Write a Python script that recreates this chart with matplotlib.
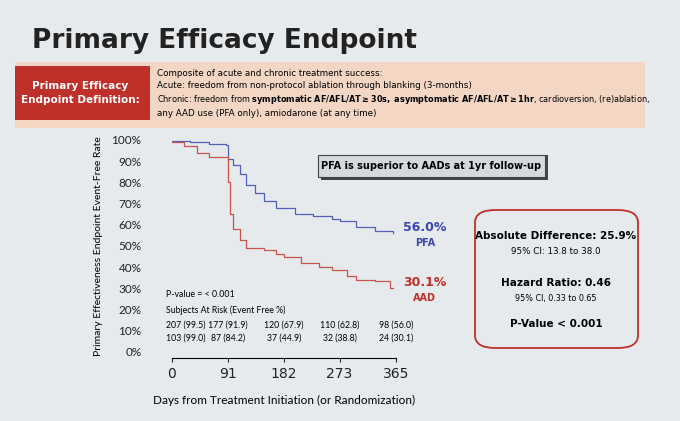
import matplotlib.pyplot as plt
from matplotlib.patches import Rectangle, FancyBboxPatch

# Kaplan-Meier style curves
pfa_days = [0, 30, 60, 88, 91, 100, 110, 120, 135, 150, 170, 182, 200, 230, 260, 273, 300, 330, 360]
pfa_pct = [99.5, 99, 98, 97.5, 91, 88, 84, 79, 75, 71, 68, 67.9, 65, 64, 62.8, 62, 59, 57, 56]
aad_days = [0, 20, 40, 60, 88, 91, 95, 100, 110, 120, 150, 170, 182, 210, 240, 260, 285, 300, 330, 355, 360]
aad_pct = [99, 97, 94, 92, 91.9, 80, 65, 58, 53, 49, 48, 46, 44.9, 42, 40, 38.8, 36, 34, 33.5, 30.1, 30.1]

tick_days = [0, 91, 182, 273, 365]
risk_pfa = ["207 (99.5)", "177 (91.9)", "120 (67.9)", "110 (62.8)", "98 (56.0)"]
risk_aad = ["103 (99.0)", "87 (84.2)", "37 (44.9)", "32 (38.8)", "24 (30.1)"]

W, H = 680, 421
fig = plt.figure(figsize=(6.8, 4.21), dpi=100)
fig.patch.set_facecolor("#e6eaed")
SANS = "Lato"


def fx(px):
    return px / W


def fy(py):
    return 1 - py / H


# title
fig.text(fx(32), fy(48), "Primary Efficacy Endpoint", fontsize=19, fontweight="bold", color="#222222")

# definition band
fig.patches.append(Rectangle((fx(15), fy(128)), fx(630), fy(62) - fy(128),
                             transform=fig.transFigure, facecolor="#f3d6c4", edgecolor="none"))
fig.patches.append(Rectangle((fx(15), fy(120)), fx(135), fy(66) - fy(120),
                             transform=fig.transFigure, facecolor="#c0302a", edgecolor="none"))
fig.text(fx(80), fy(93), "Primary Efficacy\nEndpoint Definition:", color="white", fontsize=7.5,
         fontweight="bold", ha="center", va="center", linespacing=1.4)
fig.text(fx(157), fy(73), "Composite of acute and chronic treatment success:", fontsize=6.3, va="center")
fig.text(fx(157), fy(86), "Acute: freedom from non-protocol ablation through blanking (3-months)",
         fontsize=6.3, va="center")
fig.text(fx(157), fy(100), "Chronic: freedom from $\\bf{symptomatic\\ AF/AFL/AT \\geq 30s,\\ asymptomatic\\ AF/AFL/AT \\geq 1hr}$, cardioversion, (re)ablation,",
         fontsize=5.9, va="center")
fig.text(fx(157), fy(113), "any AAD use (PFA only), amiodarone (at any time)", fontsize=6.3, va="center")

# main axes
ax = fig.add_axes([fx(172), fy(352), fx(224), fy(140) - fy(352)])
ax.set_facecolor("none")
ax.step(pfa_days, pfa_pct, where="post", color="#5560b8", lw=0.9)
ax.step(aad_days, aad_pct, where="post", color="#c9544c", lw=0.9)
ax.set_xlim(0, 365)
ax.set_ylim(0, 100)
ax.set_yticks(range(0, 101, 10))
ax.set_yticklabels([f"{v}%" for v in range(0, 101, 10)], fontsize=8.5, family=SANS)
ax.set_xticks(tick_days)
ax.set_xticklabels([str(d) for d in tick_days], fontsize=8.5, family=SANS)
for s in ("top", "right", "left"):
    ax.spines[s].set_visible(False)
ax.spines["bottom"].set_position(("outward", 4))
ax.tick_params(axis="y", length=0, pad=22, colors="#222222")
ax.tick_params(axis="x", length=3, colors="#222222")
ax.set_ylabel("Primary Effectiveness Endpoint Event-Free Rate", fontsize=7.5, labelpad=6, family=SANS)
ax.set_xlabel("Days from Treatment Initiation (or Randomization)", fontsize=8.5, labelpad=10, family=SANS)

ax.text(-9, 27, "P-value = < 0.001", fontsize=6.3, family=SANS, va="center")
ax.text(-9, 19.5, "Subjects At Risk (Event Free %)", fontsize=6.3, family=SANS, va="center")
for d, a, b in zip(tick_days, risk_pfa, risk_aad):
    ha = "left" if d == 0 else "center"
    x = -9 if d == 0 else d
    ax.text(x, 12.5, a, fontsize=6.3, ha=ha, va="center", family=SANS)
    ax.text(x, 6.5, b, fontsize=6.3, ha=ha, va="center", family=SANS)

ax.text(412, 57, "56.0%", color="#3b44b0", fontsize=9, fontweight="bold", ha="center", clip_on=False)
ax.text(412, 50, "PFA", color="#3b44b0", fontsize=7, fontweight="bold", ha="center", clip_on=False)
ax.text(412, 31, "30.1%", color="#c0302a", fontsize=9, fontweight="bold", ha="center", clip_on=False)
ax.text(412, 24, "AAD", color="#c0302a", fontsize=7, fontweight="bold", ha="center", clip_on=False)

# callout box
fig.patches.append(Rectangle((fx(321), fy(180)), fx(227), fy(155) - fy(180),
                             transform=fig.transFigure, facecolor="#444444", edgecolor="none"))
fig.patches.append(Rectangle((fx(318), fy(177)), fx(227), fy(155) - fy(177),
                             transform=fig.transFigure, facecolor="#d5d9dc", edgecolor="#444444", lw=0.8))
fig.text(fx(431), fy(166), "PFA is superior to AADs at 1yr follow-up", fontsize=7,
         fontweight="bold", ha="center", va="center")

# stats box
fig.patches.append(FancyBboxPatch((fx(475), fy(348)), fx(163), fy(210) - fy(348),
                                  boxstyle="round,pad=0,rounding_size=0.03",
                                  transform=fig.transFigure, facecolor="none",
                                  edgecolor="#c0302a", lw=1.3))
cx = fx(556)
fig.text(cx, fy(236), "Absolute Difference: 25.9%", fontsize=7.5, fontweight="bold", ha="center", va="center")
fig.text(cx, fy(252), "95% CI: 13.8 to 38.0", fontsize=6.3, ha="center", va="center")
fig.text(cx, fy(283), "Hazard Ratio: 0.46", fontsize=7.5, fontweight="bold", ha="center", va="center")
fig.text(cx, fy(298), "95% CI, 0.33 to 0.65", fontsize=5.8, ha="center", va="center")
fig.text(cx, fy(324), "P-Value < 0.001", fontsize=7.5, fontweight="bold", ha="center", va="center")

fig.savefig("out.png", dpi=100, facecolor=fig.get_facecolor())
